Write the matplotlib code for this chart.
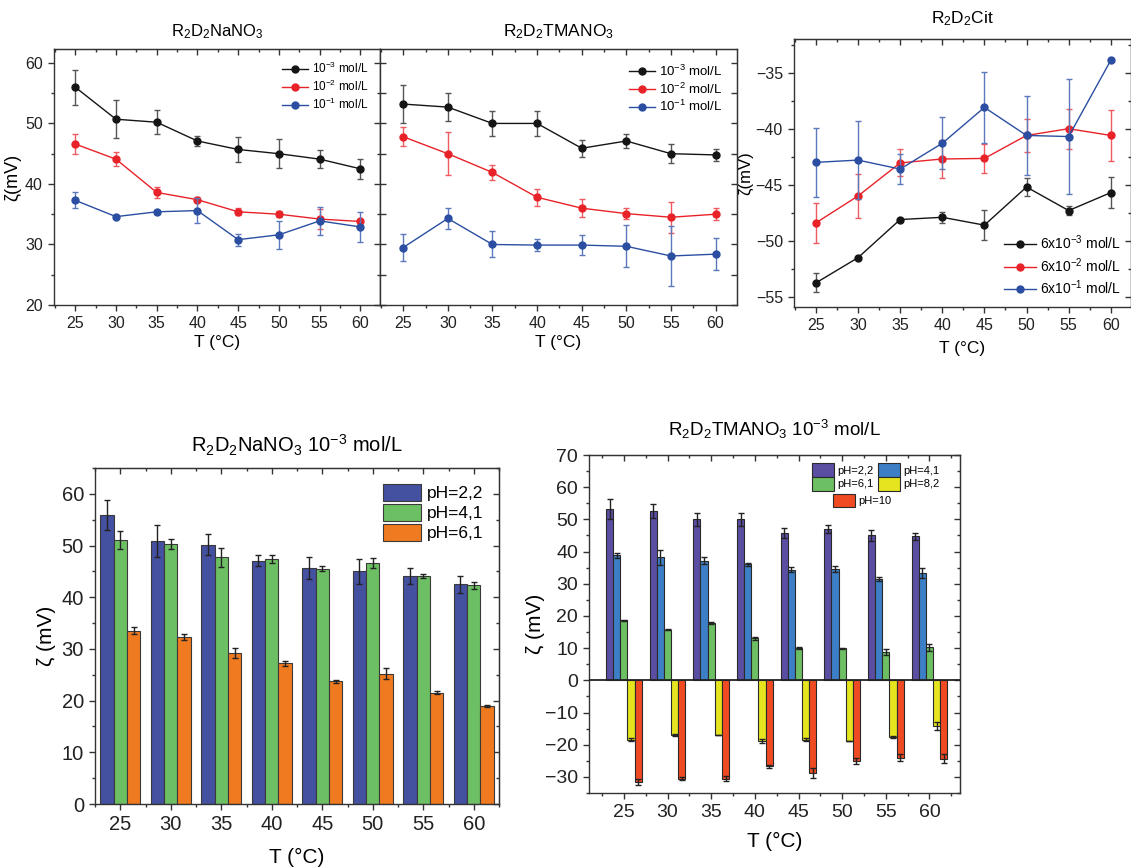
import numpy as np
import matplotlib
matplotlib.use('Agg')
import matplotlib.pyplot as plt
from matplotlib.ticker import MultipleLocator

plt.rcParams['font.family'] = ['Liberation Sans', 'DejaVu Sans']
plt.rcParams['mathtext.default'] = 'regular'

T = [25, 30, 35, 40, 45, 50, 55, 60]

# top row: zeta potential vs temperature for three concentrations
nano3_1e3 = [56.0, 50.7, 50.2, 47.1, 45.7, 45.0, 44.1, 42.5]
nano3_1e3_err = [2.9, 3.1, 2.0, 0.9, 2.1, 2.4, 1.5, 1.7]
nano3_1e2 = [46.6, 44.1, 38.6, 37.4, 35.4, 35.0, 34.2, 33.8]
nano3_1e2_err = [1.65, 1.2, 0.95, 0.4, 0.55, 0.5, 1.6, 0.3]
nano3_1e1 = [37.3, 34.6, 35.4, 35.6, 30.8, 31.6, 33.9, 32.9]
nano3_1e1_err = [1.3, 0.2, 0.3, 2.1, 1.0, 2.3, 2.3, 2.5]

tma_1e3 = [53.2, 52.7, 50.0, 50.0, 45.9, 47.1, 45.0, 44.8]
tma_1e3_err = [3.1, 2.3, 2.0, 2.0, 1.4, 1.1, 1.6, 1.0]
tma_1e2 = [47.8, 45.0, 41.9, 37.8, 36.0, 35.1, 34.5, 35.0]
tma_1e2_err = [1.55, 3.6, 1.3, 1.4, 1.5, 0.9, 2.6, 1.0]
tma_1e1 = [29.5, 34.3, 30.0, 29.9, 29.9, 29.7, 28.1, 28.4]
tma_1e1_err = [2.2, 1.7, 2.15, 1.0, 1.7, 3.5, 5.0, 2.6]

cit_6e3 = [-53.75, -51.5, -48.1, -47.9, -48.6, -45.2, -47.3, -45.7]
cit_6e3_err = [0.85, 0.1, 0.1, 0.5, 1.35, 0.8, 0.4, 1.4]
cit_6e2 = [-48.4, -46.0, -43.05, -42.7, -42.65, -40.6, -40.0, -40.6]
cit_6e2_err = [1.8, 2.0, 1.2, 1.7, 1.3, 1.45, 1.8, 2.3]
cit_6e1 = [-43.0, -42.8, -43.6, -41.3, -38.1, -40.6, -40.7, -33.9]
cit_6e1_err = [3.1, 3.5, 1.3, 2.3, 3.2, 3.5, 5.1, 0.0]

# bottom row: pH series at 10^-3 mol/L
na_ph22 = [56.0, 50.8, 50.2, 47.1, 45.7, 45.0, 44.1, 42.5]
na_ph22_err = [2.9, 3.1, 2.1, 1.0, 2.1, 2.4, 1.5, 1.7]
na_ph41 = [51.1, 50.3, 47.7, 47.4, 45.5, 46.6, 44.1, 42.3]
na_ph41_err = [1.8, 1.0, 1.8, 0.7, 0.5, 1.0, 0.3, 0.7]
na_ph61 = [33.5, 32.3, 29.2, 27.2, 23.7, 25.2, 21.5, 18.9]
na_ph61_err = [0.7, 0.65, 1.0, 0.45, 0.2, 1.1, 0.3, 0.2]

tm_ph22 = [53.3, 52.6, 50.0, 50.0, 45.8, 47.0, 45.0, 44.7]
tm_ph22_err = [3.1, 2.3, 2.1, 2.0, 1.5, 1.1, 1.7, 1.0]
tm_ph41 = [38.9, 38.2, 37.2, 36.1, 34.4, 34.5, 31.6, 33.3]
tm_ph41_err = [0.8, 2.3, 1.1, 0.5, 0.8, 1.0, 0.6, 1.6]
tm_ph61 = [18.6, 15.7, 17.8, 13.0, 10.0, 9.9, 8.7, 10.2]
tm_ph61_err = [0.1, 0.2, 0.3, 0.6, 0.2, 0.2, 0.9, 1.0]
tm_ph82 = [-18.4, -17.0, -17.0, -18.9, -18.4, -18.9, -17.5, -14.1]
tm_ph82_err = [0.4, 0.2, 0.1, 0.6, 0.6, 0.1, 0.3, 1.3]
tm_ph10 = [-31.6, -30.5, -30.5, -26.7, -28.7, -25.1, -24.0, -24.3]
tm_ph10_err = [1.0, 0.5, 0.9, 0.4, 1.5, 0.9, 1.1, 1.4]

W, H = 1131, 868
fig = plt.figure(figsize=(W / 100, H / 100), dpi=100)


def box(x0, y0, x1, y1):
    return [x0 / W, 1 - y1 / H, (x1 - x0) / W, (y1 - y0) / H]


def frame(ax, xmaj, xmin, ymaj, ymin, size, ydir='out'):
    ax.xaxis.set_major_locator(MultipleLocator(xmaj))
    ax.xaxis.set_minor_locator(MultipleLocator(xmin))
    ax.yaxis.set_major_locator(MultipleLocator(ymaj))
    ax.yaxis.set_minor_locator(MultipleLocator(ymin))
    ax.tick_params(which='both', labelsize=size, colors='#333333', labelcolor='#222222', width=1)
    ax.tick_params(axis='x', which='both', direction='out')
    ax.tick_params(axis='y', which='both', direction=ydir)
    ax.tick_params(which='major', length=4.5)
    ax.tick_params(which='minor', length=2.5)
    for s in ax.spines.values():
        s.set_color('#333333')
        s.set_linewidth(1)
    top = ax.secondary_xaxis('top')
    top.xaxis.set_major_locator(MultipleLocator(xmaj))
    top.xaxis.set_minor_locator(MultipleLocator(xmin))
    top.tick_params(which='both', direction='in', labeltop=False, colors='#333333', width=1)
    top.tick_params(which='major', length=4.5)
    top.tick_params(which='minor', length=2.5)
    top.spines['top'].set_color('#333333')
    right = ax.secondary_yaxis('right')
    right.yaxis.set_major_locator(MultipleLocator(ymaj))
    right.yaxis.set_minor_locator(MultipleLocator(ymin))
    right.tick_params(which='both', direction='in', labelright=False, colors='#333333', width=1)
    right.tick_params(which='major', length=4.5)
    right.tick_params(which='minor', length=2.5)
    right.spines['right'].set_color('#333333')


def series(ax, y, err, c, ec, label):
    ax.errorbar(T, y, yerr=err, fmt='none', ecolor=ec, elinewidth=1, capsize=2, capthick=1)
    ax.plot(T, y, 'o-', color=c, ms=5, lw=1, label=label)


black, red, blue = '#151515', '#e82229', '#2b4ea2'
black_e, red_e, blue_e = '#555555', '#ee5a5f', '#5b78bb'

# --- top left
ax1 = fig.add_axes(box(54, 49, 380, 305))
series(ax1, nano3_1e3, nano3_1e3_err, black, black_e, '10$^{-3}$ mol/L')
series(ax1, nano3_1e2, nano3_1e2_err, red, red_e, '10$^{-2}$ mol/L')
series(ax1, nano3_1e1, nano3_1e1_err, blue, blue_e, '10$^{-1}$ mol/L')
ax1.set_xlim(22.4, 62.4)
ax1.set_ylim(20, 62.3)
frame(ax1, 5, 2.5, 10, 5, 11.5)
ax1.set_title('R$_2$D$_2$NaNO$_3$', fontsize=12, pad=9)
ax1.set_xlabel('T (°C)', fontsize=12.5, labelpad=3)
ax1.set_ylabel('ζ(mV)', fontsize=13, labelpad=3)
ax1.legend(loc='upper right', frameon=False, fontsize=8.5, handlelength=2.2,
           handletextpad=0.3, labelspacing=0.25, borderaxespad=0.6)

# --- top middle
ax2 = fig.add_axes(box(380, 49, 737, 305))
series(ax2, tma_1e3, tma_1e3_err, black, black_e, '10$^{-3}$ mol/L')
series(ax2, tma_1e2, tma_1e2_err, red, red_e, '10$^{-2}$ mol/L')
series(ax2, tma_1e1, tma_1e1_err, blue, blue_e, '10$^{-1}$ mol/L')
ax2.set_xlim(22.4, 62.4)
ax2.set_ylim(20, 62.3)
frame(ax2, 5, 2.5, 5, 5, 11.5, ydir='in')
ax2.tick_params(axis='y', labelleft=False)
ax2.set_title('R$_2$D$_2$TMANO$_3$', fontsize=12.5, pad=9)
ax2.set_xlabel('T (°C)', fontsize=12.5, labelpad=3)
ax2.legend(loc='upper right', frameon=False, fontsize=9.5, handlelength=2.0,
           handletextpad=0.3, labelspacing=0.2, borderaxespad=0.7)

# --- top right
ax3 = fig.add_axes(box(794, 39, 1131, 307))
series(ax3, cit_6e3, cit_6e3_err, black, black_e, '6x10$^{-3}$ mol/L')
series(ax3, cit_6e2, cit_6e2_err, red, red_e, '6x10$^{-2}$ mol/L')
series(ax3, cit_6e1, cit_6e1_err, blue, blue_e, '6x10$^{-1}$ mol/L')
ax3.set_xlim(22.4, 62.4)
ax3.set_ylim(-55.9, -32)
frame(ax3, 5, 2.5, 5, 2.5, 11.5)
ax3.set_title('R$_2$D$_2$Cit', fontsize=12.5, pad=11)
ax3.set_xlabel('T (°C)', fontsize=12.5, labelpad=6)
ax3.set_ylabel('ζ(mV)', fontsize=12, labelpad=2)
ax3.legend(loc='lower right', frameon=False, fontsize=10, handlelength=2.3,
           handletextpad=0.3, labelspacing=0.3, borderaxespad=0.3)

# --- bottom left bars
ax4 = fig.add_axes(box(95, 468, 499, 804))
x = np.array(T, dtype=float)
bw = 1.33
ekw = dict(ecolor='#222222', elinewidth=1, capsize=2.5, capthick=1)
ax4.bar(x - bw, na_ph22, bw, yerr=na_ph22_err, color='#4450a0', edgecolor='#3a3a3a',
        linewidth=0.8, error_kw=ekw, label='pH=2,2')
ax4.bar(x, na_ph41, bw, yerr=na_ph41_err, color='#6dbf63', edgecolor='#3a3a3a',
        linewidth=0.8, error_kw=ekw, label='pH=4,1')
ax4.bar(x + bw, na_ph61, bw, yerr=na_ph61_err, color='#f07a1f', edgecolor='#3a3a3a',
        linewidth=0.8, error_kw=ekw, label='pH=6,1')
ax4.set_xlim(22.5, 62.5)
ax4.set_ylim(0, 65)
frame(ax4, 5, 2.5, 10, 5, 14.5)
ax4.set_title('R$_2$D$_2$NaNO$_3$ 10$^{-3}$ mol/L', fontsize=14.5, pad=11)
ax4.set_xlabel('T (°C)', fontsize=15, labelpad=10)
ax4.set_ylabel('ζ (mV)', fontsize=15, labelpad=4)
ax4.legend(loc='upper right', frameon=False, fontsize=12.5, handlelength=2.2,
           handleheight=1.15, handletextpad=0.35, labelspacing=0.15, borderaxespad=0.5)

# --- bottom right bars
ax5 = fig.add_axes(box(589, 455, 960, 793))
bw2 = 0.82
ekw2 = dict(ecolor='#222222', elinewidth=1, capsize=2, capthick=1)
b1 = ax5.bar(x - 2 * bw2, tm_ph22, bw2, yerr=tm_ph22_err, color='#5a4ea2', edgecolor='#2a2a2a',
             linewidth=0.8, error_kw=ekw2, label='pH=2,2')
b2 = ax5.bar(x - bw2, tm_ph41, bw2, yerr=tm_ph41_err, color='#3d7fc6', edgecolor='#2a2a2a',
             linewidth=0.8, error_kw=ekw2, label='pH=4,1')
b3 = ax5.bar(x, tm_ph61, bw2, yerr=tm_ph61_err, color='#6dbf63', edgecolor='#2a2a2a',
             linewidth=0.8, error_kw=ekw2, label='pH=6,1')
b4 = ax5.bar(x + bw2, tm_ph82, bw2, yerr=tm_ph82_err, color='#e6e41f', edgecolor='#2a2a2a',
             linewidth=0.8, error_kw=ekw2, label='pH=8,2')
b5 = ax5.bar(x + 2 * bw2, tm_ph10, bw2, yerr=tm_ph10_err, color='#f04a22', edgecolor='#2a2a2a',
             linewidth=0.8, error_kw=ekw2, label='pH=10')
ax5.axhline(0, color='#222222', lw=1.3, zorder=3)
ax5.set_xlim(21, 63.5)
ax5.set_ylim(-35, 70)
frame(ax5, 5, 2.5, 10, 5, 14)
ax5.set_title('R$_2$D$_2$TMANO$_3$ 10$^{-3}$ mol/L', fontsize=13.5, pad=14)
ax5.set_xlabel('T (°C)', fontsize=15, labelpad=8)
ax5.set_ylabel('ζ (mV)', fontsize=15, labelpad=0)
leg1 = ax5.legend([b1, b3, b2, b4], ['pH=2,2', 'pH=6,1', 'pH=4,1', 'pH=8,2'], ncol=2,
                  loc='upper left', bbox_to_anchor=(0.6, 0.975), frameon=False, fontsize=8,
                  handlelength=2.0, handleheight=1.5, handletextpad=0.3, labelspacing=0.0,
                  columnspacing=0.4, borderaxespad=0, borderpad=0)
ax5.add_artist(leg1)
ax5.legend([b5], ['pH=10'], loc='upper left', bbox_to_anchor=(0.658, 0.885), frameon=False,
           fontsize=8, handlelength=2.0, handleheight=1.5, handletextpad=0.3,
           borderaxespad=0, borderpad=0)

plt.savefig('out.png', dpi=100)
plt.close()
